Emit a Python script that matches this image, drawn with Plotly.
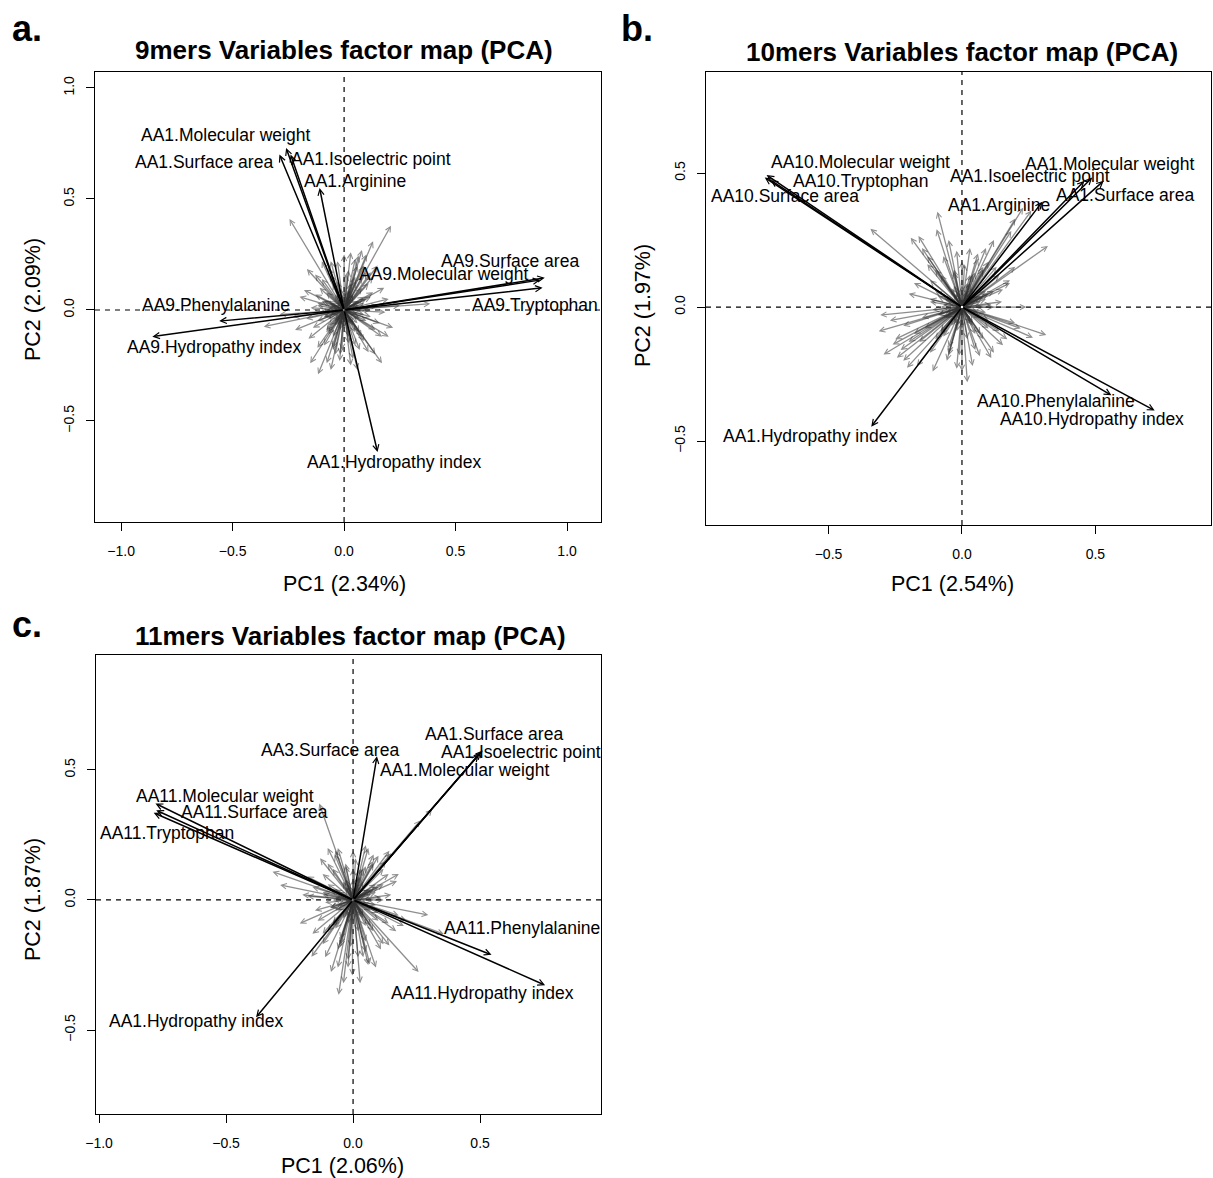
import plotly.graph_objects as go

W, H = 1213, 1178
FONT = "Liberation Sans, Arial, Helvetica, sans-serif"

# ------------------------------------------------------------------ data
# Panel a : 9mers
A_TITLE = "9mers Variables factor map (PCA)"
A_XLAB, A_YLAB = "PC1 (2.34%)", "PC2 (2.09%)"
A_NAMES = ["AA1.Molecular weight", "AA1.Surface area", "AA1.Isoelectric point",
           "AA1.Arginine", "AA1.Hydropathy index", "AA9.Surface area",
           "AA9.Molecular weight", "AA9.Tryptophan", "AA9.Phenylalanine",
           "AA9.Hydropathy index"]
A_PC1 = [-0.26, -0.29, -0.24, -0.11, 0.15, 0.90, 0.88, 0.89, -0.56, -0.86]
A_PC2 = [0.73, 0.70, 0.70, 0.55, -0.64, 0.145, 0.135, 0.10, -0.05, -0.12]
A_GREY_PC1 = [-0.245, 0.21, 0.13, -0.167, 0.03, 0.065, 0.10, -0.36, 0.20, 0.185,
              -0.152, -0.078, 0.14, 0.17, -0.117, -0.018, 0.386, -0.29, 0.09, 0.12,
              0.05, -0.05, 0.0, -0.03, 0.08, 0.10, 0.12, -0.10, -0.12, 0.05,
              -0.05, 0.08, -0.08, 0.15, -0.15, 0.02, -0.02, 0.06, -0.07, 0.11,
              -0.11, 0.04, -0.04, 0.09, -0.09, 0.03, -0.04, 0.07, 0.13, -0.13,
              0.16, -0.17, 0.20, -0.20, 0.00, 0.02, -0.06, 0.25, -0.23,
              0.06, -0.06, 0.09, -0.09, 0.03, -0.03, 0.11, -0.11, 0.07, -0.07,
              0.04, -0.02, 0.05, -0.08, 0.12, -0.12, 0.02, 0.08, -0.05, 0.10,
              0.03, -0.03, 0.05, -0.05, 0.08, -0.08, 0.12, -0.12, 0.14, -0.14,
              0.01, -0.01, 0.06, -0.07, 0.10, -0.10, 0.04, -0.02, 0.11, -0.12,
              0.18, -0.18, 0.17, -0.16, 0.07, -0.07, 0.02, -0.02, 0.09, -0.09,
              0.13, -0.13, 0.05, -0.06, 0.06, -0.06, 0.22, -0.22, 0.15, -0.10,
              0.08, 0.07, 0.04, 0.0, -0.04, -0.07, -0.08, -0.07, -0.04, 0.0, 0.04, 0.07,
              0.05, 0.03, -0.03, -0.05, -0.06, -0.03, 0.03, 0.06, 0.09, -0.09, 0.02, -0.02]
A_GREY_PC2 = [0.41, 0.38, 0.31, 0.185, 0.26, 0.245, 0.25, -0.075, -0.12, -0.01,
              -0.24, -0.24, -0.20, -0.24, -0.29, -0.20, 0.028, -0.02, 0.20, 0.17,
              0.15, 0.12, 0.25, 0.22, 0.27, 0.05, -0.03, 0.04, -0.05, -0.10,
              -0.12, 0.10, 0.08, 0.02, 0.01, -0.15, 0.10, -0.06, -0.07, 0.12,
              0.10, 0.07, -0.05, -0.14, -0.16, -0.25, -0.20, -0.18, 0.08, 0.07,
              -0.06, -0.04, 0.05, 0.06, -0.08, 0.18, 0.16, 0.02, -0.03,
              0.04, 0.03, -0.02, -0.03, 0.09, 0.08, 0.01, -0.01, -0.10, -0.11,
              -0.06, 0.06, 0.13, -0.09, 0.00, 0.02, -0.12, 0.15, -0.17, -0.05,
              0.12, 0.13, -0.16, -0.18, -0.12, -0.10, 0.06, 0.03, -0.09, -0.08,
              0.16, -0.18, 0.20, 0.19, 0.17, 0.14, -0.22, -0.23, -0.19, -0.17,
              0.10, 0.09, -0.12, -0.13, 0.02, 0.01, 0.06, -0.07, 0.06, 0.04,
              0.15, 0.16, 0.23, 0.22, -0.27, -0.27, -0.08, -0.09, 0.20, 0.22,
              0.0, 0.04, 0.07, 0.08, 0.07, 0.04, 0.0, -0.04, -0.07, -0.08, -0.07, -0.04,
              0.02, 0.05, 0.05, 0.02, -0.02, -0.06, -0.06, -0.02, 0.03, -0.03, 0.09, -0.09]
A_XTICKS = [-1.0, -0.5, 0.0, 0.5, 1.0]
A_XTICKTEXT = ["\u22121.0", "\u22120.5", "0.0", "0.5", "1.0"]
A_YTICKS = [-0.5, 0.0, 0.5, 1.0]
A_YTICKTEXT = ["\u22120.5", "0.0", "0.5", "1.0"]

# Panel b : 10mers
B_TITLE = "10mers Variables factor map (PCA)"
B_XLAB, B_YLAB = "PC1 (2.54%)", "PC2 (1.97%)"
B_NAMES = ["AA10.Molecular weight", "AA10.Tryptophan", "AA10.Surface area",
           "AA1.Molecular weight", "AA1.Isoelectric point", "AA1.Surface area",
           "AA1.Arginine", "AA10.Phenylalanine", "AA10.Hydropathy index",
           "AA1.Hydropathy index"]
B_PC1 = [-0.732, -0.717, -0.739, 0.488, 0.459, 0.531, 0.301, 0.56, 0.722, -0.34]
B_PC2 = [0.493, 0.474, 0.483, 0.483, 0.471, 0.471, 0.393, -0.329, -0.386, -0.446]
B_GREY_PC1 = [-0.343, -0.092, -0.192, -0.163, -0.095, -0.02, 0.03, 0.229, 0.185, 0.322,
              0.154, 0.241, 0.316, 0.266, 0.154, -0.306, -0.312, -0.294, -0.244, -0.206,
              -0.169, -0.057, 0.0, 0.067, -0.13, -0.05, 0.06, 0.20, 0.26, 0.12,
              0.10, 0.15, 0.18, -0.10, -0.15, -0.18, -0.22, -0.10, -0.05, 0.05,
              0.10, 0.12, 0.20, -0.03, 0.04, 0.08, -0.08, -0.12, 0.02, -0.11,
              -0.20, 0.08, -0.06, 0.00, 0.14, -0.26, -0.23,
              0.06, -0.06, 0.09, -0.09, 0.03, -0.03, 0.11, -0.11, 0.07, -0.07,
              0.04, -0.02, 0.05, -0.08, 0.12, -0.12, 0.02, 0.08, -0.05, 0.10,
              0.03, -0.03, 0.05, -0.05, 0.08, -0.08, 0.12, -0.12, 0.14, -0.14,
              0.01, -0.01, 0.06, -0.07, 0.10, -0.10, 0.04, -0.02, 0.11, -0.12,
              0.18, -0.18, 0.17, -0.16, 0.07, -0.07, 0.02, -0.02, 0.09, -0.09,
              0.13, -0.13, -0.25, -0.22, -0.27, 0.22, -0.20, 0.20, 0.09, -0.15,
              0.08, 0.07, 0.04, 0.0, -0.04, -0.07, -0.08, -0.07, -0.04, 0.0, 0.04, 0.07,
              0.05, 0.03, -0.03, -0.05, -0.06, -0.03, 0.03, 0.06, 0.09, -0.09, 0.02, -0.02]
B_GREY_PC2 = [0.292, 0.356, 0.259, 0.265, 0.29, 0.21, 0.22, 0.371, 0.284, 0.228,
              0.066, 0.0, -0.104, -0.114, -0.142, -0.03, -0.09, -0.177, -0.189, -0.226,
              -0.22, -0.2, -0.239, -0.183, 0.19, 0.25, 0.18, 0.33, 0.36, 0.25,
              0.05, 0.02, 0.09, 0.06, -0.04, -0.10, -0.07, -0.12, -0.15, -0.10,
              -0.08, -0.17, -0.06, 0.14, 0.12, 0.14, 0.12, 0.10, -0.28, -0.24,
              -0.13, 0.04, -0.04, 0.17, 0.12, -0.14, -0.16,
              0.04, 0.03, -0.02, -0.03, 0.09, 0.08, 0.01, -0.01, -0.10, -0.11,
              -0.06, 0.06, 0.13, -0.09, 0.00, 0.02, -0.12, 0.15, -0.17, -0.05,
              0.12, 0.13, -0.16, -0.18, -0.12, -0.10, 0.06, 0.03, -0.09, -0.08,
              0.16, -0.18, 0.20, 0.19, 0.17, 0.14, -0.22, -0.23, -0.19, -0.17,
              0.10, 0.09, -0.12, -0.13, 0.02, 0.01, 0.06, -0.07, 0.06, 0.04,
              0.15, 0.16, -0.12, -0.20, -0.05, -0.08, 0.05, 0.15, 0.22, 0.22,
              0.0, 0.04, 0.07, 0.08, 0.07, 0.04, 0.0, -0.04, -0.07, -0.08, -0.07, -0.04,
              0.02, 0.05, 0.05, 0.02, -0.02, -0.06, -0.06, -0.02, 0.03, -0.03, 0.09, -0.09]
B_XTICKS = [-0.5, 0.0, 0.5]
B_XTICKTEXT = ["\u22120.5", "0.0", "0.5"]
B_YTICKS = [-0.5, 0.0, 0.5]
B_YTICKTEXT = ["\u22120.5", "0.0", "0.5"]

# Panel c : 11mers
C_TITLE = "11mers Variables factor map (PCA)"
C_XLAB, C_YLAB = "PC1 (2.06%)", "PC2 (1.87%)"
C_NAMES = ["AA1.Surface area", "AA1.Isoelectric point", "AA1.Molecular weight",
           "AA3.Surface area", "AA11.Molecular weight", "AA11.Surface area",
           "AA11.Tryptophan", "AA11.Phenylalanine", "AA11.Hydropathy index",
           "AA1.Hydropathy index"]
C_PC1 = [0.503, 0.51, 0.495, 0.094, -0.778, -0.775, -0.785, 0.545, 0.756, -0.382]
C_PC2 = [0.568, 0.575, 0.56, 0.553, 0.371, 0.345, 0.335, -0.211, -0.328, -0.451]
C_GREY_PC1 = [-0.133, 0.258, -0.057, -0.038, -0.003, 0.028, 0.143, 0.173, 0.081, 0.0,
              -0.072, -0.317, -0.287, -0.18, 0.357, 0.296, 0.143, 0.066, -0.087, -0.164,
              0.311, 0.265, 0.12, -0.12, 0.10, 0.15, -0.10, -0.15, -0.10, -0.05,
              0.05, 0.10, 0.12, 0.18, -0.03, 0.04, 0.08, -0.08, -0.12, 0.02,
              -0.02, 0.05, -0.06, 0.08, -0.06, 0.0, 0.14, -0.2, 0.2, -0.16,
              0.09, -0.11,
              0.06, -0.06, 0.09, -0.09, 0.03, -0.03, 0.11, -0.11, 0.07, -0.07,
              0.04, -0.02, 0.05, -0.08, 0.12, -0.12, 0.02, 0.08, -0.05, 0.10,
              0.03, -0.03, 0.05, -0.05, 0.08, -0.08, 0.12, -0.12, 0.14, -0.14,
              0.01, -0.01, 0.06, -0.07, 0.10, -0.10, 0.04, -0.02, 0.11, -0.12,
              0.18, -0.18, 0.17, -0.16, 0.07, -0.07, 0.02, -0.02, 0.09, -0.09,
              0.13, -0.13, 0.05, -0.06, 0.06, -0.06, 0.21, -0.21, 0.15, -0.10,
              0.08, 0.07, 0.04, 0.0, -0.04, -0.07, -0.08, -0.07, -0.04, 0.0, 0.04, 0.07,
              0.05, 0.03, -0.03, -0.05, -0.06, -0.03, 0.03, 0.06, 0.09, -0.09, 0.02, -0.02]
C_GREY_PC2 = [0.371, -0.277, -0.364, -0.32, -0.29, -0.32, 0.189, 0.073, 0.175, 0.189,
              0.175, 0.109, 0.058, 0.015, -0.131, -0.058, -0.175, -0.247, -0.277, -0.218,
              0.349, 0.306, 0.12, -0.13, 0.05, 0.02, 0.06, -0.04, -0.12, -0.15,
              -0.10, -0.08, -0.17, -0.06, 0.14, 0.12, 0.14, 0.12, 0.10, -0.22,
              -0.26, -0.2, -0.19, 0.04, -0.04, 0.12, 0.10, 0.02, -0.1, 0.05,
              -0.26, -0.22,
              0.04, 0.03, -0.02, -0.03, 0.09, 0.08, 0.01, -0.01, -0.10, -0.11,
              -0.06, 0.06, 0.13, -0.09, 0.00, 0.02, -0.12, 0.15, -0.17, -0.05,
              0.12, 0.13, -0.16, -0.18, -0.12, -0.10, 0.06, 0.03, -0.09, -0.08,
              0.16, -0.18, 0.20, 0.19, 0.17, 0.14, -0.22, -0.23, -0.19, -0.17,
              0.10, 0.09, -0.12, -0.13, 0.02, 0.01, 0.06, -0.07, 0.06, 0.04,
              0.15, 0.16, 0.21, 0.20, -0.25, -0.26, -0.08, -0.09, 0.18, 0.20,
              0.0, 0.04, 0.07, 0.08, 0.07, 0.04, 0.0, -0.04, -0.07, -0.08, -0.07, -0.04,
              0.02, 0.05, 0.05, 0.02, -0.02, -0.06, -0.06, -0.02, 0.03, -0.03, 0.09, -0.09]
C_XTICKS = [-1.0, -0.5, 0.0, 0.5]
C_XTICKTEXT = ["\u22121.0", "\u22120.5", "0.0", "0.5"]
C_YTICKS = [-0.5, 0.0, 0.5]
C_YTICKTEXT = ["\u22120.5", "0.0", "0.5"]

# ------------------------------------------------------------------ layout / placement
PANELS = [
    dict(key="a", ax="", box=(95, 72, 601, 522), xr=(-1.117, 1.152), yr=(-0.955, 1.072),
         title=A_TITLE, xlab=A_XLAB, ylab=A_YLAB, names=A_NAMES, px=A_PC1, py=A_PC2,
         gx=A_GREY_PC1, gy=A_GREY_PC2, xt=(A_XTICKS, A_XTICKTEXT), yt=(A_YTICKS, A_YTICKTEXT),
         letter_pos=(27, 28), title_pos=(344, 50), xlab_pos=(344, 584), ylab_pos=(33, 300),
         offsets=[(-61, 13), (-75, -7), (80, -4), (35, 7), (16, -10), (-35, 17),
                  (-97, 6), (-8, -17), (-3, 16), (62, -10)]),
    dict(key="b", ax="2", box=(706, 72, 1211, 525), xr=(-0.959, 0.933), yr=(-0.813, 0.877),
         title=B_TITLE, xlab=B_XLAB, ylab=B_YLAB, names=B_NAMES, px=B_PC1, py=B_PC2,
         gx=B_GREY_PC1, gy=B_GREY_PC2, xt=(B_XTICKS, B_XTICKTEXT), yt=(B_YTICKS, B_YTICKTEXT),
         letter_pos=(637, 28), title_pos=(962, 52), xlab_pos=(952, 584), ylab_pos=(643, 306),
         offsets=[(94, 13), (90, -1), (20, -18), (17, 14), (-54, 5), (21, -14),
                  (-43, -3), (-55, -6), (-63, -8), (-61, -9)]),
    dict(key="c", ax="3", box=(96, 655, 601, 1114), xr=(-1.012, 0.976), yr=(-0.823, 0.942),
         title=C_TITLE, xlab=C_XLAB, ylab=C_YLAB, names=C_NAMES, px=C_PC1, py=C_PC2,
         gx=C_GREY_PC1, gy=C_GREY_PC2, xt=(C_XTICKS, C_XTICKTEXT), yt=(C_YTICKS, C_YTICKTEXT),
         letter_pos=(27, 624), title_pos=(351, 636), xlab_pos=(343, 1166), ylab_pos=(33, 900),
         offsets=[(13, 18), (38, -2), (-14, -16), (-47, 6), (70, 7), (98, -2),
                  (13, -20), (30, 27), (-63, -8), (-60, -4)]),
]

GREY = "rgba(50,50,50,0.55)"
BLACK = "#000000"

fig = go.Figure()
annotations = []
shapes = []
layout_axes = {}


def px_to_paper(x, y):
    return x / W, 1 - y / H


for p in PANELS:
    sfx = p["ax"]
    xname, yname = "x" + sfx, "y" + sfx
    x0, y0, x1, y1 = p["box"]
    fig.add_trace(go.Scatter(x=[0], y=[0], mode="markers", marker=dict(opacity=0),
                             xaxis=xname, yaxis=yname, showlegend=False, hoverinfo="skip"))
    common = dict(showgrid=False, zeroline=False, showline=True, mirror=True,
                  linecolor="black", linewidth=1.3, ticks="outside", ticklen=8,
                  tickwidth=1.2, tickcolor="black", automargin=False,
                  tickfont=dict(family=FONT, size=14, color="black"))
    layout_axes["xaxis" + sfx] = dict(
        common, domain=[x0 / W, x1 / W], range=list(p["xr"]), anchor=yname,
        tickmode="array", tickvals=p["xt"][0], ticktext=p["xt"][1], ticklabelstandoff=8)
    layout_axes["yaxis" + sfx] = dict(
        common, domain=[1 - y1 / H, 1 - y0 / H], range=list(p["yr"]), anchor=xname,
        tickmode="array", tickvals=p["yt"][0], ticktext=p["yt"][1], tickangle=-90,
        ticklabelstandoff=6)

    shapes.append(dict(type="line", xref=xname + " domain", yref=yname, x0=0, x1=1, y0=0, y1=0,
                       line=dict(color="black", width=1.2, dash="5px,5px"), layer="below"))
    shapes.append(dict(type="line", xref=xname, yref=yname + " domain", x0=0, x1=0, y0=0, y1=1,
                       line=dict(color="black", width=1.2, dash="5px,5px"), layer="below"))

    for gx, gy in zip(p["gx"], p["gy"]):
        annotations.append(dict(x=gx, y=gy, xref=xname, yref=yname, ax=0, ay=0,
                                axref=xname, ayref=yname, text="", showarrow=True,
                                arrowhead=5, arrowsize=0.8, arrowwidth=1.3,
                                arrowcolor=GREY, standoff=0))
    for bx, by in zip(p["px"], p["py"]):
        annotations.append(dict(x=bx, y=by, xref=xname, yref=yname, ax=0, ay=0,
                                axref=xname, ayref=yname, text="", showarrow=True,
                                arrowhead=5, arrowsize=0.8, arrowwidth=1.5,
                                arrowcolor=BLACK, standoff=0))
    for name, bx, by, (dx, dy) in zip(p["names"], p["px"], p["py"], p["offsets"]):
        annotations.append(dict(x=bx, y=by, xref=xname, yref=yname, text=name,
                                showarrow=False, xshift=dx, yshift=dy,
                                xanchor="center", yanchor="middle",
                                font=dict(family=FONT, size=17.5, color="black")))

    lx, ly = px_to_paper(*p["letter_pos"])
    annotations.append(dict(x=lx, y=ly, xref="paper", yref="paper", text=p["key"] + ".",
                            showarrow=False, xanchor="center", yanchor="middle",
                            font=dict(family=FONT, size=36, color="black", weight="bold")))
    tx, ty = px_to_paper(*p["title_pos"])
    annotations.append(dict(x=tx, y=ty, xref="paper", yref="paper", text=p["title"],
                            showarrow=False, xanchor="center", yanchor="middle",
                            font=dict(family=FONT, size=26, color="black", weight="bold")))
    ax_, ay_ = px_to_paper(*p["xlab_pos"])
    annotations.append(dict(x=ax_, y=ay_, xref="paper", yref="paper", text=p["xlab"],
                            showarrow=False, xanchor="center", yanchor="middle",
                            font=dict(family=FONT, size=21.5, color="black")))
    bx_, by_ = px_to_paper(*p["ylab_pos"])
    annotations.append(dict(x=bx_, y=by_, xref="paper", yref="paper", text=p["ylab"],
                            showarrow=False, xanchor="center", yanchor="middle", textangle=-90,
                            font=dict(family=FONT, size=21.5, color="black")))

fig.update_layout(
    width=W, height=H, margin=dict(l=0, r=0, t=0, b=0, autoexpand=False),
    paper_bgcolor="white", plot_bgcolor="white", showlegend=False,
    annotations=annotations, shapes=shapes, **layout_axes,
)

fig.write_html("out.html", config={"displayModeBar": False},
               post_script="document.body.style.margin='0px';")
